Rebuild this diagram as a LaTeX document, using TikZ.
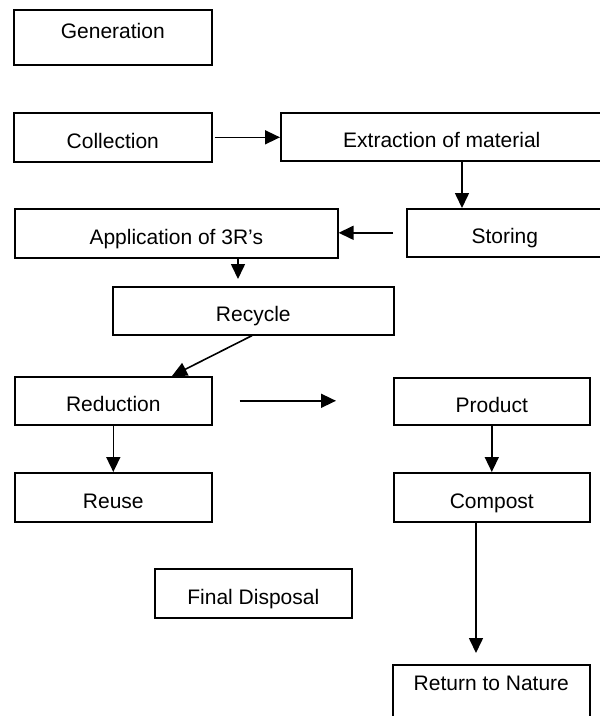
\documentclass[tikz,border=0pt]{standalone}
\usepackage{fontspec}
\setmainfont{Liberation Sans}
\usetikzlibrary{arrows.meta,calc}

\begin{document}
\begin{tikzpicture}[
  x=1pt, y=-1pt,
  box/.style={draw, line width=1.6pt, inner sep=0pt, anchor=north west,
    font=\fontsize{21}{25}\selectfont, text height=21.5pt, text depth=0pt},
  topbox/.style={box, text height=15pt, text depth=12pt},
  arr/.style={line width=1.6pt, -{Triangle[length=15pt,width=14pt]}}
]
\useasboundingbox (0,0) rectangle (600,716);
\clip (0,0) rectangle (600,716);

% process steps
\node[topbox, minimum width=198pt, minimum height=55pt] (gen) at (13,9) {Generation};
\node[box, minimum width=198pt, minimum height=49pt] (coll) at (13,112) {Collection};
\node[box, minimum width=322pt, minimum height=48pt] (ext) at (280,112) {Extraction of material};
\node[box, minimum width=196pt, minimum height=48pt] (stor) at (406,208) {Storing};
\node[box, minimum width=323pt, minimum height=49pt] (app) at (14,208) {Application of 3R’s};
\node[box, minimum width=281pt, minimum height=48pt] (rec) at (112,286) {Recycle};
\node[box, minimum width=197pt, minimum height=48pt] (red) at (14,376) {Reduction};
\node[box, minimum width=196pt, minimum height=47pt] (prod) at (393,377) {Product};
\node[box, minimum width=197pt, minimum height=49pt] (reuse) at (14,472) {Reuse};
\node[box, minimum width=196pt, minimum height=49pt] (comp) at (393,472) {Compost};
\node[box, minimum width=197pt, minimum height=49pt] (fin) at (154,568) {Final Disposal};
\node[box, minimum width=197pt, minimum height=62pt, text height=15pt, text depth=26pt] (ret) at (392,664) {Return to Nature};

% flow arrows
\draw[arr] ([xshift=2pt]coll.east) -- (ext.west |- coll.east);
\draw[arr] ([xshift=182pt]ext.south west) -- ([xshift=56pt]stor.north west);
\draw[arr] ([xshift=-13pt]stor.west) -- (app.east |- stor.west);
\draw[arr] ([xshift=224pt]app.south west) -- ([xshift=126pt,yshift=7pt]rec.north west);
\draw[arr] ([xshift=140pt]rec.south west) -- ([xshift=158pt]red.north west);
\draw[arr] ([xshift=27pt]red.east) -- ([xshift=-57pt]prod.west |- red.east);
\draw[arr] (red.south) -- (reuse.north);
\draw[arr] (prod.south) -- (comp.north);
\draw[arr] ([xshift=83pt]comp.south west) -- ([xshift=84pt,yshift=11pt]ret.north west);
\end{tikzpicture}
\end{document}
